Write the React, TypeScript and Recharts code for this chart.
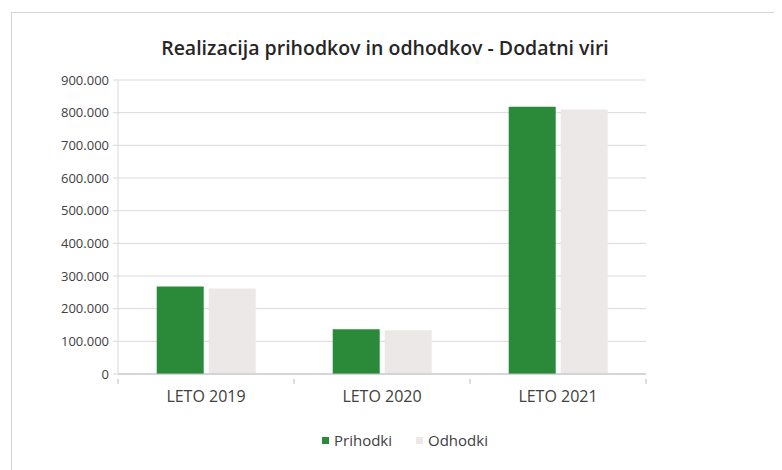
import React from 'react';
import { BarChart, Bar, XAxis, YAxis, CartesianGrid, Legend } from 'recharts';

const categories = ['LETO 2019', 'LETO 2020', 'LETO 2021'];
const prihodki = [268000, 137000, 818000];
const odhodki = [262000, 134000, 810000];
const yTicks = [0, 100000, 200000, 300000, 400000, 500000, 600000, 700000, 800000, 900000];
const seriesOrder = ['Prihodki', 'Odhodki'];

const data = categories.map((name, i) => ({ name, Prihodki: prihodki[i], Odhodki: odhodki[i] }));

const FONT = '"Open Sans", "Noto Sans", sans-serif';
const GREEN = '#2a8a3a';
const GRAY = '#ece8e8';

const fmt = (v: number): string => String(v).replace(/\B(?=(\d{3})+(?!\d))/g, '.');

// category label plus the Excel-style tick marks between categories
const XTick: React.FC<any> = ({ x, y, payload, index, visibleTicksCount }) => {
  const half = payload.offset || 0;
  const top = y - 14;
  return (
    <g>
      <line x1={x - half} x2={x - half} y1={top} y2={top + 5} stroke="#bfbfbf" />
      {index === visibleTicksCount - 1 && (
        <line x1={x + half} x2={x + half} y1={top} y2={top + 5} stroke="#bfbfbf" />
      )}
      <text x={x} y={y - 2} dy="0.71em" textAnchor="middle" fill="#404040" fontSize={16} fontFamily={FONT}>
        {payload.value}
      </text>
    </g>
  );
};

const LegendContent: React.FC<any> = ({ payload }) => {
  const items = [...(payload || [])].sort(
    (a: any, b: any) => seriesOrder.indexOf(a.value) - seriesOrder.indexOf(b.value)
  );
  return (
    <div style={{ display: 'flex', gap: 24, fontFamily: FONT, fontSize: 15, color: '#404040' }}>
      {items.map((p: any) => (
        <div key={p.value} style={{ display: 'flex', alignItems: 'center' }}>
          <span style={{ display: 'inline-block', width: 7, height: 7, background: p.color, marginRight: 5 }} />
          {p.value}
        </div>
      ))}
    </div>
  );
};

const App: React.FC = () => (
  <div
    style={{
      position: 'relative',
      marginLeft: 3,
      marginTop: 4,
      width: 770,
      height: 458,
      border: '1px solid #d4d4d4',
      borderRight: 'none',
      borderBottom: 'none',
      background: '#fff',
    }}
  >
    <div
      style={{
        position: 'absolute',
        left: 0,
        top: 21,
        width: 746,
        textAlign: 'center',
        fontFamily: FONT,
        fontWeight: 600,
        fontSize: 19.5,
        color: '#262626',
      }}
    >
      Realizacija prihodkov in odhodkov - Dodatni viri
    </div>
    <BarChart
      width={770}
      height={455}
      data={data}
      margin={{ top: 67, right: 136, left: 0, bottom: 44 }}
      barCategoryGap="22%"
      barGap={5}
    >
      <CartesianGrid vertical={false} stroke="#d9d9d9" />
      <XAxis
        dataKey="name"
        height={30}
        axisLine={{ stroke: '#bfbfbf' }}
        tickLine={false}
        tickMargin={13}
        tick={<XTick />}
        interval={0}
      />
      <YAxis
        width={106}
        domain={[0, 900000]}
        ticks={yTicks}
        tickFormatter={fmt}
        axisLine={{ stroke: '#d9d9d9' }}
        tickLine={{ stroke: '#d9d9d9' }}
        tickSize={5}
        tickMargin={4}
        tick={{ fill: '#404040', fontSize: 13, fontFamily: FONT }}
        interval={0}
      />
      <Legend
        verticalAlign="bottom"
        height={20}
        wrapperStyle={{ bottom: 18, left: 310, width: 'auto' }}
        content={<LegendContent />}
      />
      <Bar dataKey="Prihodki" fill={GREEN} isAnimationActive={false} />
      <Bar dataKey="Odhodki" fill={GRAY} isAnimationActive={false} />
    </BarChart>
  </div>
);

export default App;
